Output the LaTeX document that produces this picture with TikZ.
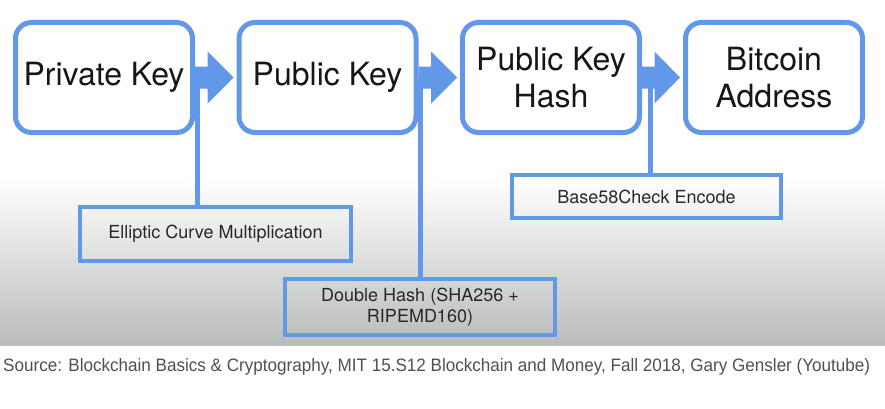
\documentclass[tikz,border=0pt]{standalone}
\usepackage{fontspec}
\setmainfont{TeX Gyre Heros}
\newfontfamily\capfont{Liberation Sans}
\usetikzlibrary{calc}
\definecolor{bblue}{RGB}{99,152,233}
\definecolor{txtc}{RGB}{22,22,22}
\definecolor{smallc}{RGB}{40,40,40}
\definecolor{capc}{RGB}{80,80,80}
\definecolor{bggray}{RGB}{186,188,188}
\tikzset{
  keybox/.style={draw=bblue, line width=5pt, rounded corners=16pt, fill=white,
    minimum width=177pt, minimum height=110pt, align=center, text=txtc,
    font=\fontsize{32}{37}\selectfont, inner sep=0pt},
  opbox/.style={draw=bblue, line width=4pt, align=center, text=smallc,
    font=\fontsize{18}{21}\selectfont, inner sep=0pt},
  link/.style={draw=bblue, line width=5pt},
  arrowfill/.style={fill=bblue}
}
\begin{document}
\begin{tikzpicture}[x=1pt,y=1pt]
\useasboundingbox (0,0) rectangle (885,408);
\fill[white] (0,0) rectangle (885,408);
\shade[top color=white, bottom color=bggray] (0,63) rectangle (885,231);

% key boxes
\node[keybox] (b1) at (104,330.5) {Private Key};
\node[keybox] (b2) at (327.5,330.5) {Public Key};
\node[keybox] (b3) at (551,330.5) {Public Key\\Hash};
\node[keybox] (b4) at (774,330.5) {Bitcoin\\Address};

% operation boxes
\node[opbox, minimum width=271pt, minimum height=54pt] (ell) at (215.5,174) {Elliptic Curve Multiplication};
\node[opbox, minimum width=270pt, minimum height=56pt] (dh) at (420,101) {Double Hash (SHA256 +\\RIPEMD160)};
\node[opbox, minimum width=269pt, minimum height=43pt] (b58) at (646.5,211.5) {Base58Check Encode};

% vertical links
\coordinate (l1) at ($(b1.east)+(2.5,0)$);
\draw[link] (l1) -- (l1 |- ell.north);
\draw[link] (dh.north) -- (dh.north |- b2.east);
\coordinate (l3) at ($(b3.east)+(8.5,0)$);
\draw[link] (l3) -- (l3 |- b58.north);

% block arrows
\foreach \a/\b in {b1/b2, b2/b3, b3/b4}{
  \fill[arrowfill] ($(\a.east)+(0,11)$) -- ($(\a.east)+(12.5,11)$) -- ($(\a.east)+(12.5,26)$)
     -- ($(\b.west)+(-3,0)$) -- ($(\a.east)+(12.5,-26)$) -- ($(\a.east)+(12.5,-11)$)
     -- ($(\a.east)+(0,-11)$) -- cycle;
}

% caption
\node[anchor=base west, inner sep=0pt, text=capc] (cap) at (3,36.3)
  {\resizebox{867pt}{\height}{\capfont\fontsize{18}{20}\selectfont Source: Blockchain Basics \& Cryptography, MIT 15.S12 Blockchain and Money, Fall 2018, Gary Gensler (Youtube)}};
\end{tikzpicture}
\end{document}
